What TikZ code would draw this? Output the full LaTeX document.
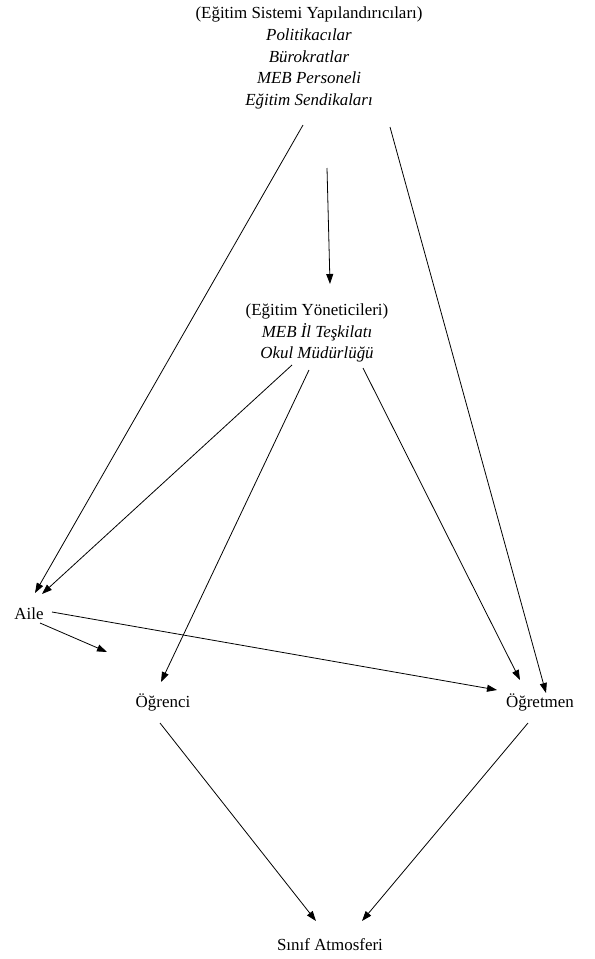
\documentclass[tikz,border=0pt]{standalone}
\usepackage{fontspec}
\setmainfont{Liberation Serif}
\usepackage{tikz}
\usetikzlibrary{arrows.meta, positioning}

\begin{document}
\begin{tikzpicture}[x=1bp, y=-1bp,
  actor/.style={inner sep=0pt, align=center, font=\fontsize{17}{22}\selectfont},
  link/.style={-{Triangle[length=10bp, width=7bp]}, line width=0.8bp}]
  \useasboundingbox (0,0) rectangle (595,959);
  % Actors
  \node[actor] (sys) at (309,58) {(Eğitim Sistemi Yapılandırıcıları)\\\textit{Politikacılar}\\\textit{Bürokratlar}\\\textit{MEB Personeli}\\\textit{Eğitim Sendikaları}};
  \node[actor] (yon) at (317,333) {(Eğitim Yöneticileri)\\\textit{MEB İl Teşkilatı}\\\textit{Okul Müdürlüğü}};
  \node[actor] (aile) at (29,614) {Aile};
  \node[actor] (ogrenci) at (163,702) {Öğrenci};
  \node[actor] (ogretmen) at (540,702) {Öğretmen};
  \node[actor] (sinif) at (330,945) {Sınıf Atmosferi};
  \coordinate (ailetip) at (107,652);
  % Arrows
  \draw[link] ([shift={(-6,67)}]sys.center) -- ([shift={(6,-21)}]aile.center);
  \draw[link] ([shift={(81,69)}]sys.center) -- ([shift={(6,-9)}]ogretmen.center);
  \draw[link] ([shift={(18,110)}]sys.center) -- ([shift={(13,-49)}]yon.center);
  \draw[link] ([shift={(-25,32)}]yon.center) -- ([shift={(13,-20)}]aile.center);
  \draw[link] ([shift={(-8,37)}]yon.center) -- ([shift={(-2,-20)}]ogrenci.center);
  \draw[link] ([shift={(46,35)}]yon.center) -- ([shift={(-20,-22)}]ogretmen.center);
  \draw[link] ([shift={(23,-2)}]aile.center) -- ([shift={(-43,-12)}]ogretmen.center);
  \draw[link] ([shift={(11,9)}]aile.center) -- (ailetip);
  \draw[link] ([shift={(-3,21)}]ogrenci.center) -- ([shift={(-14,-24)}]sinif.center);
  \draw[link] ([shift={(-12,21)}]ogretmen.center) -- ([shift={(32,-24)}]sinif.center);
\end{tikzpicture}
\end{document}
